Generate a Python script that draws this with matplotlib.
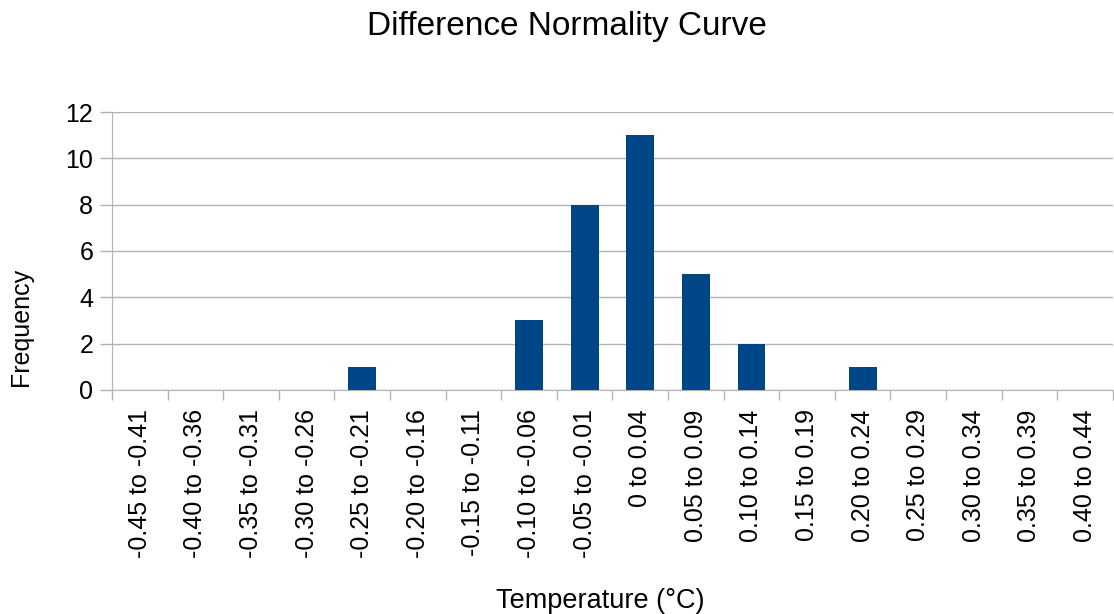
import numpy as np
import matplotlib.pyplot as plt

plt.rcParams['font.family'] = ['Liberation Sans', 'DejaVu Sans']

# bins and counts
bins = ['-0.45 to -0.41', '-0.40 to -0.36', '-0.35 to -0.31', '-0.30 to -0.26',
        '-0.25 to -0.21', '-0.20 to -0.16', '-0.15 to -0.11', '-0.10 to -0.06',
        '-0.05 to -0.01', '0 to 0.04', '0.05 to 0.09', '0.10 to 0.14',
        '0.15 to 0.19', '0.20 to 0.24', '0.25 to 0.29', '0.30 to 0.34',
        '0.35 to 0.39', '0.40 to 0.44']
counts = [0, 0, 0, 0, 1, 0, 0, 3, 8, 11, 5, 2, 0, 1, 0, 0, 0, 0]

grey = '#b3b3b3'

fig = plt.figure(figsize=(11.14, 6.14), dpi=100)
ax = fig.add_axes([0.1005, 0.365, 0.8985, 0.4525])

x = np.arange(len(bins))
ax.bar(x, counts, width=0.5, color='#004586', zorder=3)

ax.set_xlim(-0.5, len(bins) - 0.5)
ax.set_ylim(0, 12)
ax.set_yticks(np.arange(0, 13, 2))
ax.yaxis.grid(True, color=grey, linewidth=1, zorder=0)

# category boundary ticks, labels centered in each bin
ax.set_xticks(np.arange(-0.5, len(bins), 1.0))
ax.set_xticklabels([])
ax.set_xticks(x, minor=True)
ax.set_xticklabels(bins, minor=True, rotation=90, fontsize=18)
ax.tick_params(axis='x', which='minor', length=0, pad=14)
ax.tick_params(axis='x', which='major', length=7.5, color=grey, width=1)
ax.tick_params(axis='y', length=8.5, color=grey, width=1, labelsize=18, pad=5)

for side in ['top', 'right']:
    ax.spines[side].set_visible(False)
for side in ['left', 'bottom']:
    ax.spines[side].set_color(grey)

ax.set_xlabel('Temperature (°C)', fontsize=19.5)
ax.xaxis.set_label_coords(0.4875, -0.712)
ax.set_ylabel('Frequency', fontsize=18)
ax.yaxis.set_label_coords(-0.079, 0.227)
fig.text(0.509, 0.982, 'Difference Normality Curve', fontsize=24,
         ha='center', va='top')

fig.savefig('out.png', dpi=100)
